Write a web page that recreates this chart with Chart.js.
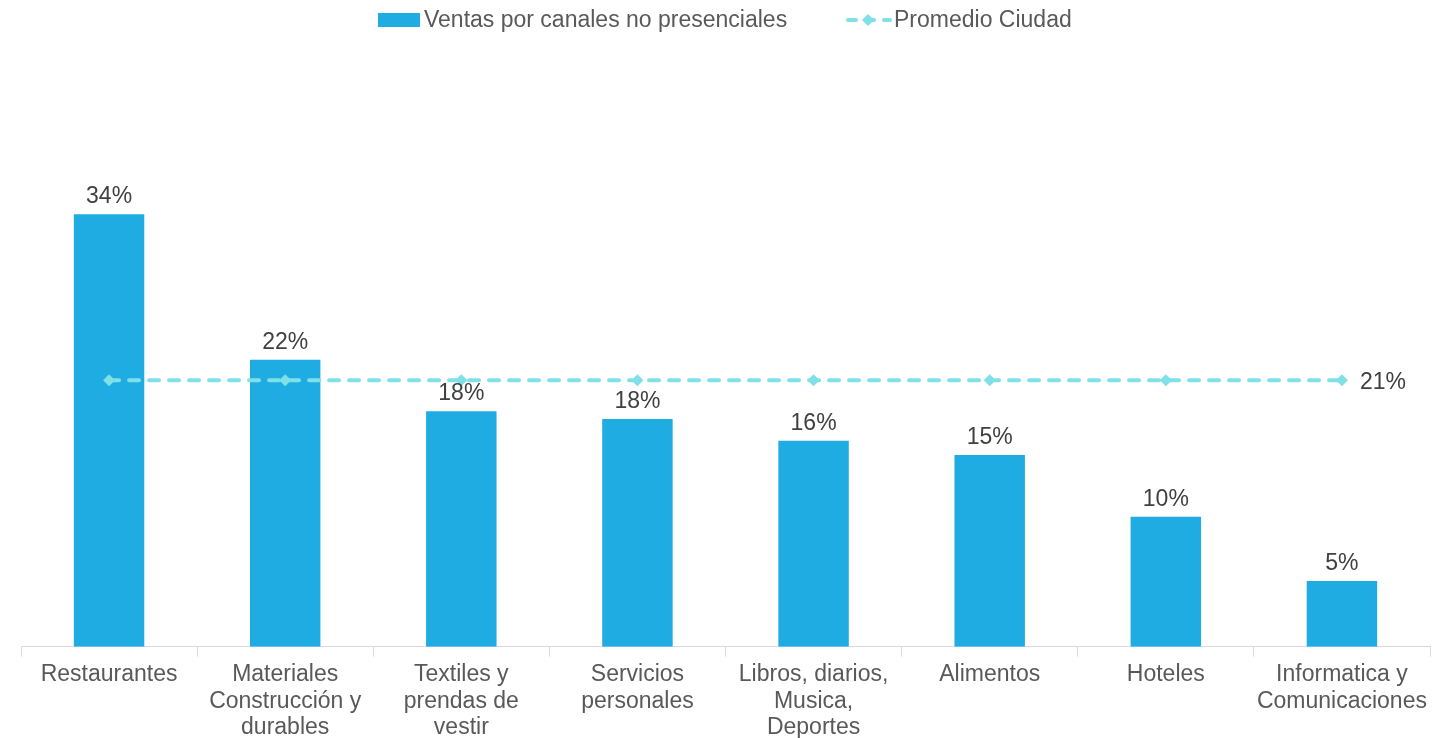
<!DOCTYPE html>
<html>
<head>
<meta charset="utf-8">
<script src="https://cdn.jsdelivr.net/npm/chart.js@4"></script>
<style>
  html, body { margin: 0; padding: 0; background: #fff; overflow: hidden; }
  #wrap { width: 1448px; height: 746px; }
</style>
</head>
<body>
<div id="wrap"><canvas id="grafico" width="1448" height="746"></canvas></div>
<script>
// categorias (etiquetas del eje X, en varias lineas)
const categorias = [
  ["Restaurantes"],
  ["Materiales", "Construcción y", "durables"],
  ["Textiles y", "prendas de", "vestir"],
  ["Servicios", "personales"],
  ["Libros, diarios,", "Musica,", "Deportes"],
  ["Alimentos"],
  ["Hoteles"],
  ["Informatica y", "Comunicaciones"]
];
// ventas por canales no presenciales (fraccion)
const ventas = [0.336, 0.223, 0.183, 0.177, 0.160, 0.149, 0.101, 0.051];
// promedio ciudad
const promedio = [0.207, 0.207, 0.207, 0.207, 0.207, 0.207, 0.207, 0.207];

const azul = "#1eace2";
const cian = "#7fe0e7";
const fuente = "'Liberation Sans', Arial, sans-serif";

const pct = (v) => Math.round(v * 100) + "%";

// etiquetas de valor sobre las barras y al final de la linea
const etiquetas = {
  id: "etiquetas",
  afterDatasetsDraw(chart) {
    const ctx = chart.ctx;
    ctx.save();
    ctx.font = "23px " + fuente;
    ctx.fillStyle = "#404040";
    const barras = chart.getDatasetMeta(0);
    ctx.textAlign = "center";
    ctx.textBaseline = "alphabetic";
    barras.data.forEach((el, i) => {
      ctx.fillText(pct(ventas[i]), el.x, el.y - 11);
    });
    const linea = chart.getDatasetMeta(1);
    const ultimo = linea.data[linea.data.length - 1];
    ctx.textAlign = "left";
    ctx.textBaseline = "middle";
    ctx.fillText(pct(promedio[promedio.length - 1]), ultimo.x + 18, ultimo.y + 2);
    ctx.restore();
  }
};

// leyenda dibujada a mano (barra + linea punteada con rombo)
const leyenda = {
  id: "leyenda",
  afterDraw(chart) {
    const ctx = chart.ctx;
    ctx.save();
    ctx.font = "23px " + fuente;
    ctx.textBaseline = "middle";
    // serie de barras
    ctx.fillStyle = azul;
    ctx.fillRect(378, 13, 42, 14);
    ctx.fillStyle = "#595959";
    ctx.fillText("Ventas por canales no presenciales", 424, 21);
    // serie de linea
    ctx.strokeStyle = cian;
    ctx.lineWidth = 4;
    ctx.lineCap = "round";
    ctx.setLineDash([8, 10]);
    ctx.beginPath();
    ctx.moveTo(848, 20);
    ctx.lineTo(890, 20);
    ctx.stroke();
    ctx.setLineDash([]);
    ctx.fillStyle = cian;
    ctx.beginPath();
    ctx.moveTo(868, 14);
    ctx.lineTo(874, 20);
    ctx.lineTo(868, 26);
    ctx.lineTo(862, 20);
    ctx.closePath();
    ctx.fill();
    ctx.fillStyle = "#595959";
    ctx.fillText("Promedio Ciudad", 894, 21);
    ctx.restore();
  }
};

new Chart(document.getElementById("grafico").getContext("2d"), {
  type: "bar",
  data: {
    labels: categorias,
    datasets: [
      {
        label: "Ventas por canales no presenciales",
        data: ventas,
        backgroundColor: azul,
        borderWidth: 0,
        barPercentage: 0.4,
        categoryPercentage: 1,
        order: 1
      },
      {
        type: "line",
        label: "Promedio Ciudad",
        data: promedio,
        borderColor: cian,
        backgroundColor: cian,
        borderWidth: 4,
        borderDash: [10, 10],
        borderCapStyle: "round",
        pointStyle: "rectRot",
        pointRadius: 6,
        pointBorderWidth: 0,
        pointBackgroundColor: cian,
        fill: false,
        order: 0
      }
    ]
  },
  options: {
    responsive: false,
    animation: false,
    layout: { padding: { top: 132, left: 21, right: 18, bottom: 0 } },
    plugins: {
      legend: { display: false },
      tooltip: { enabled: false }
    },
    scales: {
      x: {
        offset: true,
        grid: {
          offset: true,
          drawOnChartArea: false,
          drawTicks: true,
          tickLength: 10,
          color: "#d9d9d9"
        },
        border: { color: "#d9d9d9", width: 1 },
        ticks: {
          color: "#595959",
          font: { family: fuente, size: 23, lineHeight: 1.15 },
          padding: 5,
          maxRotation: 0,
          autoSkip: false
        }
      },
      y: {
        display: false,
        min: 0,
        max: 0.4
      }
    }
  },
  plugins: [etiquetas, leyenda]
});
</script>
</body>
</html>
